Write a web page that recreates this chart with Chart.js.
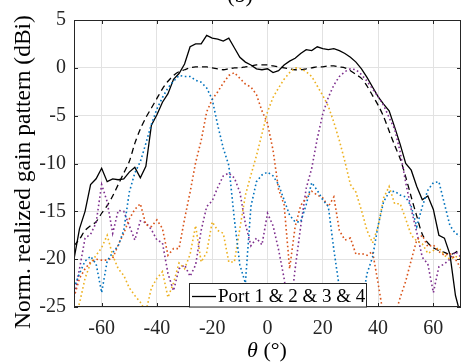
<!DOCTYPE html>
<html>
<head>
<meta charset="utf-8">
<script src="https://cdn.jsdelivr.net/npm/chart.js@4/dist/chart.umd.min.js"></script>
<style>
  html, body { margin: 0; padding: 0; background: #fff; }
  #wrap { width: 462px; height: 363px; }
</style>
</head>
<body>
<div id="wrap"><canvas id="gain" width="462" height="363"></canvas></div>
<script>
'use strict';

// angle samples (deg)
const theta = [-70, -68, -66, -64, -62, -60, -58, -56, -54, -52, -50, -48, -46, -44, -42, -40, -38, -36, -34, -32,
  -30, -28, -26, -24, -22, -20, -18, -16, -14, -12, -10, -8, -6, -4, -2, 0, 2, 4, 6, 8,
  10, 12, 14, 16, 18, 20, 22, 24, 26, 28, 30, 32, 34, 36, 38, 40, 42, 44, 46, 48,
  50, 52, 54, 56, 58, 60, 62, 64, 66, 68, 70];

// all ports together (solid black)
const combined = [-20.0, -16.8, -15.0, -12.2, -11.6, -10.5, -11.9, -11.6, -11.7, -11.6, -10.9, -10.4, -11.5, -10.3, -6.0, -4.9, -3.6, -2.7, -1.2, -0.6,
  0.4, 2.2, 2.5, 2.5, 3.4, 3.1, 3.0, 2.8, 3.1, 2.1, 1.1, 0.6, 0.3, -0.1, -0.2, -0.1, -0.5, -0.3, 0.3, 0.7,
  1.0, 1.5, 1.9, 1.8, 2.2, 2.0, 1.9, 2.0, 1.8, 1.5, 1.1, 0.6, -0.1, -1.0, -2.0, -3.0, -3.8, -4.5, -6.2, -8.0,
  -10.0, -10.7, -12.4, -13.8, -13.4, -14.8, -17.5, -17.8, -19.5, -23.8, -26.0];

// envelope (dashed black)
const envelope = [-18.6, -17.9, -17.0, -16.5, -16.1, -15.2, -14.4, -13.4, -12.2, -11.0, -9.8, -7.9, -6.4, -5.2, -4.2, -3.2, -2.2, -1.4, -0.8, -0.4,
  -0.2, 0.0, 0.1, 0.1, 0.1, 0.0, -0.1, -0.2, -0.1, 0.0, 0.0, 0.1, 0.2, 0.3, 0.3, 0.3, 0.2, 0.1, 0.0, -0.1,
  -0.2, -0.2, -0.1, 0.0, 0.1, 0.1, 0.2, 0.2, 0.1, 0.0, -0.3, -0.7, -1.1, -1.9, -2.9, -3.9, -5.1, -6.6, -8.1, -9.5,
  -11.4, -13.5, -15.5, -17.4, -18.3, -18.8, -19.1, -19.3, -19.5, -19.3, -18.9];

const port1 = [-23.0, -21.5, -20.2, -19.7, -20.5, -23.5, -20.2, -19.3, -18.6, -17.0, -13.0, -11.0, -9.8, -7.9, -5.9, -4.3, -3.1, -2.1, -1.4, -0.8,
  -0.9, -0.9, -1.3, -1.5, -2.1, -3.3, -6.0, -8.4, -10.2, -15.8, -20.6, -22.5, -14.5, -11.9, -11.2, -10.9, -11.3, -12.2, -13.8, -15.4,
  -16.1, -16.1, -14.3, -12.0, -12.8, -13.8, -14.5, -19.0, -23.0, -26.5, -27.0, -27.0, -25.0, -21.5, -19.8, -16.5, -14.0, -13.0, -12.9, -13.3,
  -13.5, -14.5, -16.6, -14.5, -12.8, -12.0, -11.9, -14.2, -16.5, -17.3, -17.6];

const port2 = [-24.0, -22.0, -21.0, -20.3, -20.0, -20.1, -20.1, -19.9, -18.5, -17.3, -15.8, -14.8, -14.2, -16.4, -16.6, -15.9, -16.8, -19.6, -18.9, -18.9,
  -15.8, -13.0, -9.9, -7.6, -4.6, -3.3, -2.5, -1.6, -0.8, -0.5, -1.1, -1.7, -2.0, -2.8, -4.5, -5.8, -8.6, -12.7, -14.3, -21.0,
  -16.6, -14.4, -13.6, -12.9, -13.3, -13.6, -14.5, -13.5, -17.0, -18.0, -17.8, -19.5, -19.4, -19.6, -19.2, -22.5, -26.0, -27.0, -26.0, -24.0,
  -22.3, -20.1, -18.0, -17.5, -18.7, -18.5, -19.2, -19.6, -19.4, -20.0, -21.0];

const port3 = [-26.0, -24.6, -22.0, -20.4, -19.6, -18.8, -17.5, -19.6, -21.0, -21.7, -23.0, -23.8, -24.5, -25.5, -23.0, -22.0, -21.3, -24.0, -22.5, -20.4,
  -21.0, -19.5, -16.5, -20.3, -19.3, -16.1, -17.0, -17.3, -20.3, -20.3, -16.8, -13.3, -11.2, -9.2, -6.9, -4.6, -3.1, -2.1, -1.2, -0.5,
  0.0, -0.1, -0.4, -0.9, -1.9, -2.9, -4.0, -5.7, -7.6, -9.8, -12.2, -13.0, -14.9, -17.0, -18.3, -16.6, -13.6, -12.4, -14.2, -14.2,
  -15.8, -17.5, -18.1, -18.4, -19.4, -19.1, -18.8, -19.6, -20.0, -19.7, -20.0];

const port4 = [-24.0, -21.0, -17.8, -17.4, -16.2, -12.2, -14.0, -17.3, -14.9, -15.0, -16.5, -18.0, -16.0, -16.2, -16.9, -18.0, -18.3, -21.5, -23.3, -21.0,
  -20.6, -21.8, -20.6, -17.0, -14.5, -13.9, -12.5, -11.3, -11.0, -11.5, -13.0, -16.3, -18.6, -17.8, -18.5, -15.2, -16.5, -19.0, -22.0, -26.0,
  -21.0, -16.6, -12.6, -10.5, -7.4, -4.8, -3.1, -1.8, -0.9, -0.4, -0.1, -0.2, -0.7, -1.4, -2.2, -3.0, -3.9, -5.2, -6.4, -8.8,
  -12.0, -14.8, -17.2, -19.8, -20.5, -23.5, -20.8, -20.5, -20.0, -19.2, -19.8];

const xTicks = [-60, -40, -20, 0, 20, 40, 60];
const yTicks = [-25, -20, -15, -10, -5, 0, 5];
const legendLabel = 'Port 1 & 2 & 3 & 4';
const yTitle = 'Norm. realized gain pattern (dBi)';
const panelTag = '(b)';

const serif = "'Liberation Serif', 'Times New Roman', serif";
const ink = '#262626';

function pts(vals) {
  return theta.map((t, i) => ({ x: t, y: vals[i] }));
}

function dotted(label, vals, color) {
  return {
    label, data: pts(vals), borderColor: color, borderWidth: 1.6,
    borderDash: [1.6, 2.6], pointRadius: 0, tension: 0, fill: false, order: 1
  };
}

// box, inner ticks, legend and texts drawn over the plot
const overlay = {
  id: 'overlay',
  afterDatasetsDraw(chart) {
    const { ctx, chartArea: a, scales: { x, y } } = chart;
    ctx.save();
    ctx.strokeStyle = ink;
    ctx.lineWidth = 1;
    ctx.beginPath();
    xTicks.forEach(v => {
      const px = Math.round(x.getPixelForValue(v)) + 0.5;
      ctx.moveTo(px, a.bottom); ctx.lineTo(px, a.bottom - 4);
      ctx.moveTo(px, a.top); ctx.lineTo(px, a.top + 4);
    });
    yTicks.forEach(v => {
      const py = Math.round(y.getPixelForValue(v)) + 0.5;
      ctx.moveTo(a.left, py); ctx.lineTo(a.left + 4, py);
      ctx.moveTo(a.right, py); ctx.lineTo(a.right - 4, py);
    });
    ctx.stroke();
    ctx.strokeRect(a.left + 0.5, a.top + 0.5, a.width - 1, a.height - 1);

    // legend
    const lx = 189.5, ly = 283.5, lw = 177, lh = 23.5;
    ctx.fillStyle = '#fff';
    ctx.fillRect(lx, ly, lw, lh);
    ctx.strokeStyle = ink;
    ctx.strokeRect(lx, ly, lw, lh);
    ctx.strokeStyle = '#000';
    ctx.lineWidth = 1.3;
    ctx.beginPath();
    ctx.moveTo(192, 296.5); ctx.lineTo(216, 296.5);
    ctx.stroke();
    ctx.fillStyle = '#000';
    ctx.font = '19px ' + serif;
    ctx.textBaseline = 'alphabetic';
    ctx.textAlign = 'left';
    ctx.fillText(legendLabel, 218, 302);
    ctx.restore();
  },
  afterDraw(chart) {
    const { ctx } = chart;
    ctx.save();
    ctx.fillStyle = '#000';
    ctx.textAlign = 'center';
    ctx.textBaseline = 'alphabetic';
    ctx.font = '22px ' + serif;
    ctx.fillText(panelTag, 240, 2);

    // x title: italic theta then (°)
    const a = 'θ', b = ' (°)';
    ctx.font = 'italic 22px ' + serif;
    const wa = ctx.measureText(a).width;
    ctx.font = '22px ' + serif;
    const wb = ctx.measureText(b).width;
    const x0 = 267 - (wa + wb) / 2;
    ctx.textAlign = 'left';
    ctx.font = 'italic 22px ' + serif;
    ctx.fillText(a, x0, 357);
    ctx.font = '22px ' + serif;
    ctx.fillText(b, x0 + wa, 357);

    // y title
    ctx.translate(30, 172);
    ctx.rotate(-Math.PI / 2);
    ctx.textAlign = 'center';
    ctx.font = '23.5px ' + serif;
    ctx.fillText(yTitle, 0, 0);
    ctx.restore();
  }
};

new Chart(document.getElementById('gain').getContext('2d'), {
  type: 'line',
  data: {
    datasets: [
      { label: 'Port 1 & 2 & 3 & 4', data: pts(combined), borderColor: '#000', borderWidth: 1.3, pointRadius: 0, tension: 0, fill: false, order: 3 },
      { label: 'envelope', data: pts(envelope), borderColor: '#000', borderWidth: 1.3, borderDash: [6, 4], pointRadius: 0, tension: 0.3, fill: false, order: 2 },
      dotted('Port 1', port1, '#0072BD'),
      dotted('Port 2', port2, '#D95319'),
      dotted('Port 3', port3, '#EDB120'),
      dotted('Port 4', port4, '#7E2F8E')
    ]
  },
  options: {
    responsive: false,
    devicePixelRatio: 1,
    animation: false,
    layout: { padding: { top: 20, right: 1, left: 0, bottom: 0 } },
    plugins: { legend: { display: false }, tooltip: { enabled: false }, title: { display: false } },
    scales: {
      x: {
        type: 'linear', min: -70, max: 70,
        afterBuildTicks: s => { s.ticks = xTicks.map(v => ({ value: v })); },
        afterFit: s => { s.height = 56; },
        grid: { color: '#e2e2e2', drawTicks: false },
        border: { display: false },
        ticks: { color: ink, font: { family: serif, size: 20 }, padding: 10, maxRotation: 0 }
      },
      y: {
        type: 'linear', min: -25, max: 5,
        afterBuildTicks: s => { s.ticks = yTicks.map(v => ({ value: v })); },
        afterFit: s => { s.width = 74; },
        grid: { color: '#e2e2e2', drawTicks: false },
        border: { display: false },
        ticks: { color: ink, font: { family: serif, size: 20 }, padding: 8 }
      }
    }
  },
  plugins: [overlay]
});
</script>
</body>
</html>
